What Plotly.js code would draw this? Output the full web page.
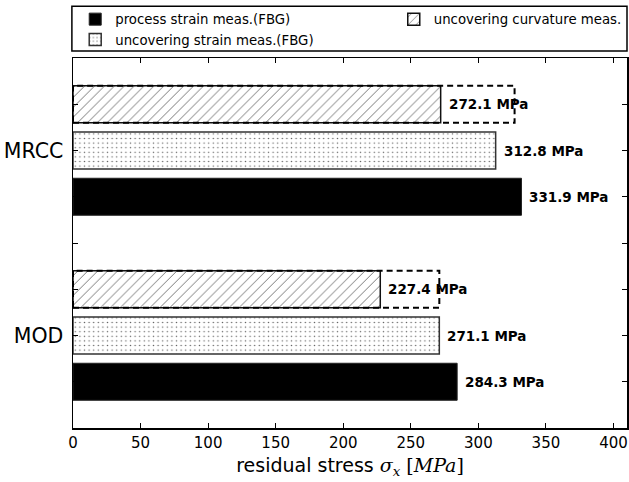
<!DOCTYPE html>
<html>
<head>
<meta charset="utf-8">
<script src="https://cdn.plot.ly/plotly-3.0.1.min.js"></script>
<style>html,body{margin:0;padding:0;background:#fff;}#chart{width:629px;height:482px;}</style>
</head>
<body>
<div id="chart"></div>
<script>
// ---- data ----
var categories = ['MRCC', 'MOD'];
var processStrain = [331.9, 284.3];      // process strain meas.(FBG)
var uncoverStrain = [312.8, 271.1];      // uncovering strain meas.(FBG)
var uncoverCurv = [272.1, 227.4];        // uncovering curvature meas.
var curvUpper = [326.8, 271.1];          // dashed outline extent
var xTicks = [0, 50, 100, 150, 200, 250, 300, 350, 400];

// ---- layout helpers ----
var groupCenter = [5, 1];
var halfW = 0.4;
function pos(off) { return categories.map(function (c, i) { return groupCenter[i] + off; }); }

var font = 'DejaVu Sans, Arial, sans-serif';

var traces = [
  {
    type: 'bar', orientation: 'h', name: 'process strain meas.(FBG)',
    x: processStrain, y: pos(-1), width: 0.8,
    marker: { color: '#000', line: { color: '#222', width: 1 } },
    legend: 'legend', legendrank: 1, hoverinfo: 'x'
  },
  {
    type: 'bar', orientation: 'h', name: 'uncovering strain meas.(FBG)',
    x: uncoverStrain, y: pos(0), width: 0.8,
    marker: { color: '#fff', line: { color: '#333', width: 1.5 },
      pattern: { shape: '.', fgcolor: '#666', bgcolor: '#fff', size: 4.6, solidity: 0.08 } },
    legend: 'legend', legendrank: 2, hoverinfo: 'x'
  },
  {
    type: 'bar', orientation: 'h', name: 'uncovering curvature meas.',
    x: uncoverCurv, y: pos(1), width: 0.8,
    marker: { color: '#fff', line: { color: '#111', width: 1.5 },
      pattern: { shape: '/', fgcolor: '#777', bgcolor: '#fff', size: 7, solidity: 0.14 } },
    legend: 'legend2', legendrank: 3, hoverinfo: 'x'
  }
];

// dashed outlines
categories.forEach(function (c, i) {
  var yc = groupCenter[i] + 1;
  var v = curvUpper[i];
  traces.push({
    type: 'scatter', mode: 'lines', showlegend: false, hoverinfo: 'skip',
    x: [0, v, v, 0, 0],
    y: [yc - halfW, yc - halfW, yc + halfW, yc + halfW, yc - halfW],
    line: { color: '#000', width: 2, dash: '6px,4px' }
  });
});

// value labels
var annotations = [];
function addLabels(vals, off) {
  vals.forEach(function (v, i) {
    annotations.push({
      x: v, y: groupCenter[i] + off, xref: 'x', yref: 'y',
      text: '<b>' + v.toFixed(1) + ' MPa</b>', showarrow: false,
      xanchor: 'left', yanchor: 'middle', xshift: 6,
      font: { family: font, size: 13.5, color: '#000' }
    });
  });
}
addLabels(processStrain, -1);
addLabels(uncoverStrain, 0);
addLabels(uncoverCurv, 1);

var yTickVals = [0, 1, 2, 3, 4, 5, 6];
var yTickText = yTickVals.map(function (t) {
  var k = groupCenter.indexOf(t);
  return k >= 0 ? categories[k] : '';
});

var serif = 'DejaVu Serif, Liberation Serif, serif';

var layout = {
  width: 629, height: 482,
  margin: { l: 73, r: 2, t: 58, b: 54, pad: 0, autoexpand: false },
  paper_bgcolor: '#fff', plot_bgcolor: '#fff',
  font: { family: font, color: '#000' },
  barmode: 'overlay',
  showlegend: true,
  xaxis: {
    range: [0, 410], tickvals: xTicks, ticktext: xTicks.map(String),
    ticks: 'inside', ticklen: 5, tickwidth: 1, tickcolor: '#000',
    showline: true, linecolor: '#000', linewidth: 1.5, mirror: 'ticks',
    showgrid: false, zeroline: false, automargin: false,
    tickfont: { family: font, size: 15, color: '#000' },
    title: {
      text: 'residual stress <span style="font-family:' + serif + '"><i>σ<sub>x</sub></i> [<i>MPa</i>]</span>',
      font: { family: font, size: 19, color: '#000' }, standoff: 8
    }
  },
  yaxis: {
    range: [-1, 7], tickvals: yTickVals, ticktext: yTickText,
    ticks: 'inside', ticklen: 5, tickwidth: 1, tickcolor: '#000',
    showline: true, linecolor: '#000', linewidth: 1.5, mirror: 'ticks',
    showgrid: false, zeroline: false, automargin: false,
    tickfont: { family: font, size: 20.5, color: '#000' },
    ticklabelstandoff: 4
  },
  legend: {
    orientation: 'v', x: 0.004, xanchor: 'left', y: 1.146, yanchor: 'top',
    bgcolor: 'rgba(0,0,0,0)', borderwidth: 0, tracegroupgap: 0,
    font: { family: font, size: 13.3, color: '#000' }
  },
  legend2: {
    orientation: 'v', x: 0.579, xanchor: 'left', y: 1.146, yanchor: 'top',
    bgcolor: 'rgba(0,0,0,0)', borderwidth: 0,
    font: { family: font, size: 13.3, color: '#000' }
  },
  shapes: [{
    type: 'rect', xref: 'paper', yref: 'paper',
    x0: -0.002, x1: 1.0, y0: 1.019, y1: 1.14,
    line: { color: '#000', width: 1.5 }, fillcolor: 'rgba(0,0,0,0)', layer: 'above'
  }],
  annotations: annotations
};

Plotly.newPlot('chart', traces, layout, { displayModeBar: false, staticPlot: true });
</script>
</body>
</html>
